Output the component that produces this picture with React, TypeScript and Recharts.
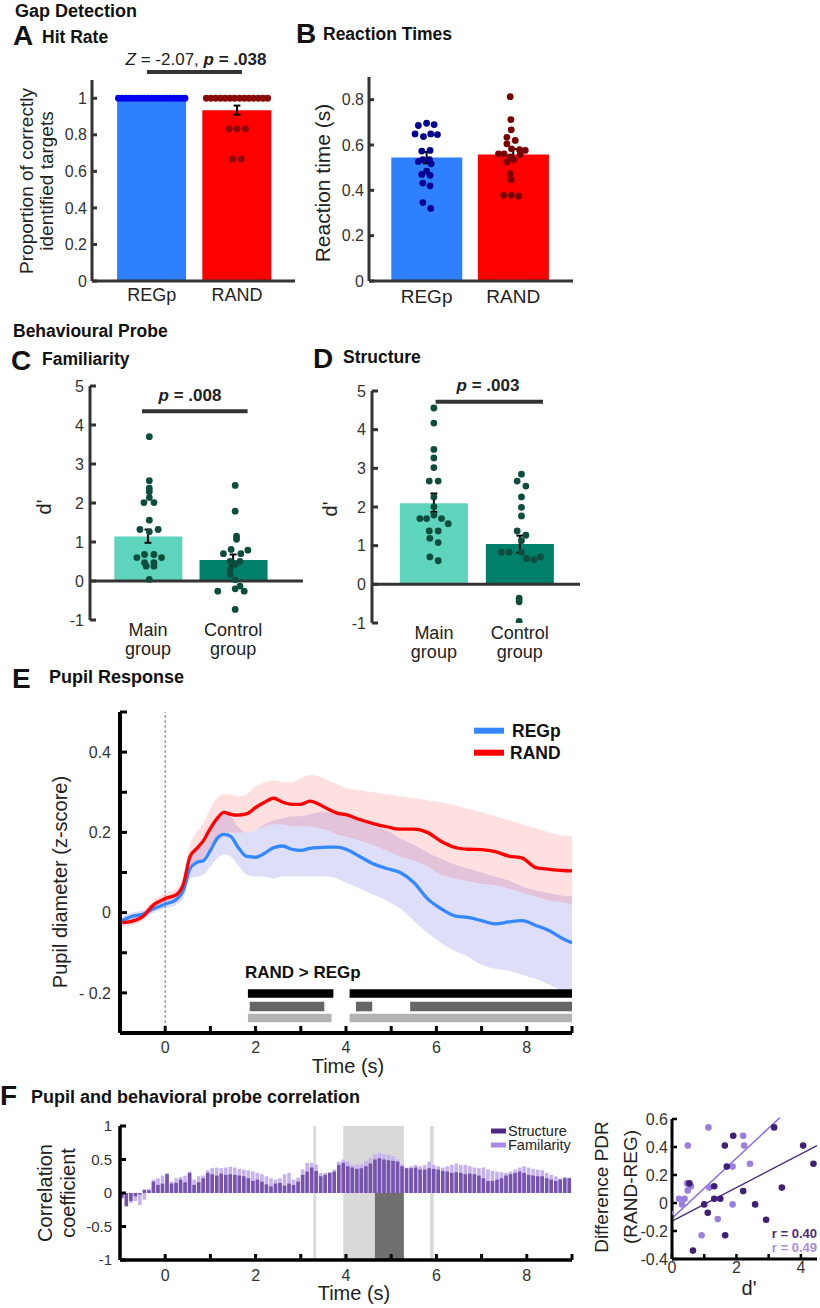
import React from "react";
import {
  ComposedChart,
  Bar,
  Cell,
  Scatter,
  Line,
  Area,
  XAxis,
  YAxis,
  ReferenceLine,
  ReferenceArea,
} from "recharts";

const FONT = '"Liberation Sans", Arial, Helvetica, sans-serif';
const INK = "#333";

// ---------- A / B : gap detection ----------
const abGroups = ["REGp", "RAND"];
const hitRate = [1.0, 0.935];
const hitRateErr = [
  [0.997, 1.003],
  [0.91, 0.96],
];
// [jitter, value]
const hitRegDots = [
  [-0.39, 1], [-0.347, 1], [-0.303, 1], [-0.26, 1], [-0.217, 1], [-0.173, 1], [-0.13, 1],
  [-0.087, 1], [-0.043, 1], [0, 1], [0.043, 1], [0.087, 1], [0.13, 1], [0.173, 1],
  [0.217, 1], [0.26, 1], [0.303, 1], [0.347, 1], [0.39, 1],
];
const hitRandDots = [
  [-0.36, 1], [-0.305, 1], [-0.25, 1], [-0.195, 1], [-0.14, 1], [-0.085, 1], [-0.03, 1],
  [0.03, 1], [0.085, 1], [0.14, 1], [0.195, 1], [0.25, 1], [0.305, 1], [0.36, 1],
  [-0.09, 0.833], [0, 0.833], [0.1, 0.833], [-0.05, 0.667], [0.05, 0.667],
];

const rtMean = [0.545, 0.558];
const rtErr = [
  [0.519, 0.569],
  [0.535, 0.582],
];
const rtRegDots = [
  [-0.095, 0.686], [0, 0.696], [0.087, 0.69], [-0.133, 0.649], [-0.036, 0.637],
  [0.048, 0.649], [0.125, 0.646], [-0.056, 0.573], [0.04, 0.576], [-0.044, 0.535],
  [0.033, 0.535], [-0.095, 0.527], [0.052, 0.517], [0, 0.485], [-0.056, 0.47],
  [0.04, 0.466], [-0.044, 0.432], [0.04, 0.42], [-0.044, 0.346], [0.048, 0.32],
];
const rtRandDots = [
  [-0.035, 0.813], [-0.027, 0.712], [-0.023, 0.667], [-0.073, 0.634], [0.023, 0.62],
  [-0.073, 0.605], [-0.02, 0.583], [0.073, 0.579], [-0.17, 0.561], [-0.105, 0.561],
  [0.139, 0.576], [0.08, 0.558], [-0.035, 0.547], [-0.073, 0.525], [0.004, 0.535],
  [-0.035, 0.473], [-0.023, 0.447], [-0.112, 0.378], [-0.023, 0.378], [0.062, 0.374],
];

// ---------- C / D : behavioural probe ----------
const cdGroups = [
  ["Main", "group"],
  ["Control", "group"],
];
const famMean = [1.14, 0.54];
const famErr = [
  [0.98, 1.32],
  [0.38, 0.68],
];
const famMainDots = [
  [0.016, 3.7], [0.016, 2.57], [0.016, 2.38], [0.016, 2.29], [0.016, 2.14], [-0.047, 2.01],
  [0.071, 2.01], [0.016, 1.56], [-0.094, 1.32], [0.016, 1.26], [0.12, 1.32], [-0.13, 0.6],
  [-0.04, 0.68], [0.07, 0.68], [0.16, 0.6], [-0.04, 0.47], [0.07, 0.47], [-0.02, 0.38],
  [0.07, 0.38], [0.016, 0.04],
];
const famCtrlDots = [
  [0.024, 2.45], [0.024, 1.79], [0.04, 1.15], [0.04, 1.07], [-0.114, 0.7], [-0.024, 0.81],
  [0.173, 0.79], [0.09, 0.7], [-0.035, 0.5], [0.024, 0.43], [0.08, 0.5], [-0.035, 0.3],
  [-0.035, 0.17], [0.024, 0.03], [0.08, -0.13], [-0.18, -0.26], [0.024, -0.2],
  [0.13, -0.26], [0.024, -0.73],
];

const strMean = [2.1, 1.04];
const strErr = [
  [1.87, 2.35],
  [0.82, 1.26],
];
const strMainDots = [
  [0, 4.56], [0, 4.17], [0, 3.49], [0, 3.27], [0, 3.02], [-0.054, 2.67], [0.05, 2.67],
  [0, 2.26], [0, 2.0], [-0.163, 1.7], [-0.085, 1.7], [0, 1.79], [0.089, 1.7], [0.167, 1.57],
  [-0.054, 1.38], [0.05, 1.38], [-0.047, 1.19], [0.05, 1.08], [-0.047, 0.71], [0.05, 0.61],
];
const strCtrlDots = [
  [0.019, 2.85], [-0.031, 2.67], [0.07, 2.54], [0.019, 2.26], [0.019, 1.99], [0.019, 1.77],
  [-0.031, 1.38], [0.07, 1.27], [0.019, 1.13], [-0.213, 0.83], [-0.124, 0.83], [0.019, 0.83],
  [0.078, 0.67], [0.163, 0.64], [0.24, 0.71], [-0.008, -0.36], [-0.008, -0.45], [-0.008, -0.96],
];

// ---------- E : pupil response ----------
const eTime = [
  -0.95, -0.75, -0.5, -0.25, 0, 0.25, 0.4, 0.55, 0.7, 0.85, 1.0, 1.15, 1.3, 1.45, 1.6, 1.8,
  2.0, 2.2, 2.4, 2.6, 2.8, 3.0, 3.2, 3.4, 3.6, 3.8, 4.0, 4.3, 4.6, 4.9, 5.2, 5.5, 5.8, 6.1,
  6.4, 6.7, 7.0, 7.3, 7.6, 7.9, 8.2, 8.5, 8.8, 9.0,
];
const randMean = [
  -0.025, -0.022, -0.01, 0.02, 0.035, 0.045, 0.07, 0.14, 0.16, 0.18, 0.21, 0.235, 0.25, 0.245,
  0.243, 0.246, 0.262, 0.275, 0.285, 0.275, 0.27, 0.27, 0.278, 0.27, 0.258, 0.248, 0.244,
  0.232, 0.222, 0.214, 0.208, 0.208, 0.2, 0.178, 0.163, 0.158, 0.157, 0.152, 0.141, 0.136,
  0.112, 0.108, 0.105, 0.104,
];
const randLo = [
  -0.035, -0.032, -0.02, 0.008, 0.022, 0.03, 0.05, 0.11, 0.125, 0.14, 0.165, 0.19, 0.2, 0.2,
  0.2, 0.2, 0.205, 0.215, 0.22, 0.22, 0.215, 0.215, 0.215, 0.21, 0.205, 0.195, 0.19, 0.18,
  0.168, 0.155, 0.14, 0.13, 0.115, 0.095, 0.085, 0.078, 0.072, 0.068, 0.06, 0.05, 0.04, 0.03,
  0.025, 0.02,
];
const randHi = [
  -0.015, -0.012, 0.0, 0.032, 0.048, 0.06, 0.09, 0.17, 0.2, 0.225, 0.26, 0.285, 0.295, 0.295,
  0.29, 0.295, 0.315, 0.325, 0.33, 0.325, 0.325, 0.335, 0.343, 0.34, 0.33, 0.32, 0.31, 0.305,
  0.3, 0.295, 0.29, 0.285, 0.28, 0.275, 0.268, 0.258, 0.25, 0.24, 0.23, 0.22, 0.21, 0.2,
  0.192, 0.19,
];
const regMean = [
  -0.02, -0.01, -0.004, 0.01, 0.021, 0.033, 0.055, 0.11, 0.125, 0.13, 0.155, 0.185, 0.195,
  0.19, 0.165, 0.14, 0.138, 0.148, 0.162, 0.166, 0.158, 0.155, 0.16, 0.162, 0.163, 0.163,
  0.158, 0.14, 0.122, 0.11, 0.1, 0.075, 0.035, 0.01, -0.008, -0.012, -0.02, -0.028, -0.023,
  -0.02, -0.032, -0.045, -0.065, -0.075,
];
const regLo = [
  -0.03, -0.02, -0.014, 0.0, 0.01, 0.02, 0.035, 0.085, 0.09, 0.095, 0.115, 0.135, 0.145, 0.14,
  0.12, 0.095, 0.09, 0.09, 0.085, 0.09, 0.09, 0.09, 0.09, 0.09, 0.09, 0.085, 0.075, 0.06,
  0.045, 0.03, 0.01, -0.02, -0.05, -0.075, -0.095, -0.11, -0.13, -0.14, -0.145, -0.155,
  -0.165, -0.18, -0.195, -0.2,
];
const regHi = [
  -0.01, 0.0, 0.006, 0.02, 0.032, 0.046, 0.075, 0.135, 0.16, 0.17, 0.2, 0.23, 0.245, 0.24,
  0.215, 0.2, 0.205, 0.22, 0.23, 0.235, 0.24, 0.24, 0.245, 0.25, 0.25, 0.245, 0.24, 0.23,
  0.215, 0.205, 0.185, 0.17, 0.15, 0.135, 0.12, 0.11, 0.1, 0.09, 0.08, 0.065, 0.055, 0.048,
  0.042, 0.04,
];
// significant clusters RAND > REGp (s)
const sigTop = [[1.83, 3.72], [4.08, 9.0]];
const sigMid = [[1.87, 3.52], [4.22, 4.58], [5.42, 9.0]];
const sigLow = [[1.83, 3.68], [4.08, 9.0]];
const eYTicks = [-0.2, -0.1, 0, 0.1, 0.2, 0.3, 0.4, 0.5];
const eYLabels = ["- 0.2", "", "0", "", "0.2", "", "0.4", ""];
const timeTicks = [0, 1, 2, 3, 4, 5, 6, 7, 8, 9];

// ---------- F : correlation ----------
// one bar every 0.1 s from -0.95 s
const fStructure = [
  -0.08, -0.2, -0.12, -0.05, -0.02, 0.05, 0.04, 0.17, 0.12, 0.14,
  0.28, 0.14, 0.15, 0.2, 0.16, 0.3, 0.12, 0.16, 0.22, 0.3,
  0.28, 0.26, 0.29, 0.27, 0.28, 0.27, 0.26, 0.25, 0.22, 0.18,
  0.2, 0.17, 0.13, 0.1, 0.14, 0.15, 0.11, 0.14, 0.12, 0.17,
  0.27, 0.32, 0.38, 0.33, 0.25, 0.27, 0.3, 0.32, 0.42, 0.45,
  0.4, 0.38, 0.36, 0.37, 0.4, 0.44, 0.5, 0.52, 0.5, 0.49,
  0.48, 0.47, 0.4, 0.37, 0.37, 0.38, 0.35, 0.35, 0.37, 0.36,
  0.35, 0.33, 0.32, 0.3, 0.31, 0.3, 0.28, 0.29, 0.28, 0.26,
  0.22, 0.18, 0.18, 0.2, 0.22, 0.26, 0.28, 0.3, 0.32, 0.3,
  0.27, 0.26, 0.25, 0.25, 0.22, 0.2, 0.18, 0.2, 0.22, 0.22,
];
const fFamiliarity = [
  -0.03, -0.08, -0.15, -0.12, -0.18, -0.1, 0.06, 0.2, 0.22, 0.26,
  0.3, 0.17, 0.22, 0.24, 0.26, 0.32, 0.2, 0.25, 0.26, 0.34,
  0.37, 0.38, 0.37, 0.38, 0.39, 0.38, 0.36, 0.35, 0.34, 0.32,
  0.3, 0.28, 0.25, 0.22, 0.2, 0.22, 0.28, 0.3, 0.2, 0.23,
  0.35, 0.45, 0.45, 0.42, 0.3, 0.3, 0.31, 0.35, 0.47, 0.5,
  0.47, 0.42, 0.42, 0.43, 0.48, 0.52, 0.58, 0.6, 0.58, 0.57,
  0.55, 0.5, 0.43, 0.38, 0.4, 0.42, 0.4, 0.42, 0.47, 0.42,
  0.4, 0.38, 0.4, 0.42, 0.44, 0.42, 0.42, 0.4, 0.38, 0.37,
  0.38, 0.35, 0.33, 0.32, 0.31, 0.3, 0.32, 0.35, 0.38, 0.4,
  0.38, 0.36, 0.35, 0.34, 0.3, 0.27, 0.25, 0.22, 0.24, 0.23,
];
const fSigLight = [[3.28, 3.34], [3.94, 5.28], [5.86, 5.94]];
const fSigDark = [[4.64, 5.28]];
const fYTicks = [-1, -0.5, 0, 0.5, 1];

// scatter: [d', PDR difference]
const scStructure = [
  [0.65, -0.34], [0.54, 0.14], [1.0, -0.01], [1.11, -0.07], [1.31, 0.12], [1.31, 0.03],
  [1.5, 0.03], [1.64, 0.41], [1.65, -0.23], [1.9, 0.48], [1.7, 0.26], [2.21, 0.085],
  [2.58, -0.01], [2.92, -0.12], [3.17, 0.54], [3.41, 0.11], [4.07, 0.41], [4.39, 0.28],
];
const scFamiliarity = [
  [-0.07, -0.07], [0.22, 0.03], [0.31, -0.01], [0.39, 0.03], [0.49, 0.41], [0.47, 0.14],
  [0.49, 0.09], [0.59, 0.12], [1.13, 0.54], [1.16, 0.11], [1.42, -0.115], [0.92, -0.23],
  [1.88, 0.26], [1.88, -0.01], [2.21, 0.48], [2.24, 0.41], [2.42, 0.28],
];
const fitStructure = [[0, -0.13], [4.5, 0.41]];
const fitFamiliarity = [[0, -0.11], [3.35, 0.61]];

const C_STRUCT = "#4b2a85";
const C_FAM = "#a98be6";

type Rect = { l: number; t: number; r: number; b: number };

function frame(p: Rect, wy: number, mt: number, mr: number, hx: number) {
  return {
    style: { position: "absolute" as const, left: p.l - wy, top: p.t - mt },
    width: p.r - p.l + wy + mr,
    height: p.b - p.t + mt + hx,
    margin: { top: mt, right: mr, bottom: 0, left: 0 },
  };
}

const toPts = (g: number, pts: number[][]) => pts.map(([dx, v]) => ({ x: g + dx, y: v }));

const dot = (r: number, fill: string) => (s: any) => <circle cx={s.cx} cy={s.cy} r={r} fill={fill} />;

function errorBars(errs: number[][], cap: number, key: string) {
  const out: React.ReactElement[] = [];
  errs.forEach(([lo, hi], i) => {
    const x = i + 1;
    out.push(<ReferenceLine key={key + "v" + i} segment={[{ x, y: lo }, { x, y: hi }]} stroke="#000" strokeWidth={2} />);
    out.push(<ReferenceLine key={key + "l" + i} segment={[{ x: x - cap, y: lo }, { x: x + cap, y: lo }]} stroke="#000" strokeWidth={2} />);
    out.push(<ReferenceLine key={key + "h" + i} segment={[{ x: x - cap, y: hi }, { x: x + cap, y: hi }]} stroke="#000" strokeWidth={2} />);
  });
  return out;
}

type PanelProps = {
  plot: Rect;
  xDomain: [number, number];
  yDomain: [number, number];
  yTicks: number[];
  means: number[];
  errs: number[][];
  barColors: string[];
  dots: { pts: { x: number; y: number }[]; color: string }[];
  barSize: number;
  tick: any;
  tickFormatter?: (v: number) => string;
  xTickMargin: number;
  hx: number;
  zeroAxis?: boolean;
  sig?: { x1: number; x2: number; y: number };
  yGap: number;
  tickSize: number;
};

function BarPanel(p: PanelProps) {
  const f = frame(p.plot, 50, 20, 6, p.hx);
  const data = p.means.map((m, i) => ({ x: i + 1, y: m }));
  return (
    <div style={f.style}>
      <ComposedChart width={f.width} height={f.height} margin={f.margin} data={data}>
        <XAxis
          type="number"
          dataKey="x"
          domain={p.xDomain}
          allowDataOverflow
          ticks={[1, 2]}
          interval={0}
          height={p.hx}
          axisLine={p.zeroAxis ? false : { stroke: INK, strokeWidth: 3 }}
          tickLine={false}
          tickSize={0}
          tickMargin={p.xTickMargin}
          tick={p.tick}
          tickFormatter={p.tickFormatter}
        />
        <XAxis xAxisId="d" type="number" dataKey="x" domain={p.xDomain} allowDataOverflow hide />
        <YAxis
          type="number"
          domain={p.yDomain}
          allowDataOverflow
          ticks={p.yTicks}
          interval={0}
          width={50}
          axisLine={{ stroke: INK, strokeWidth: 3 }}
          tickLine={{ stroke: INK, strokeWidth: 3 }}
          tickSize={-p.tickSize}
          tickMargin={p.tickSize + p.yGap}
          tick={{ fill: INK, fontSize: 16, fontFamily: FONT }}
        />
        <Bar dataKey="y" barSize={p.barSize} isAnimationActive={false}>
          {data.map((_, i) => (
            <Cell key={i} fill={p.barColors[i]} />
          ))}
        </Bar>
        {p.zeroAxis && <ReferenceLine y={0} stroke={INK} strokeWidth={3} />}
        {p.dots.map((d, i) => (
          <Scatter key={i} xAxisId="d" data={d.pts} dataKey="y" isAnimationActive={false} shape={dot(3.4, d.color)} />
        ))}
        {errorBars(p.errs, 0.04, "e")}
        {p.sig && (
          <ReferenceLine
            segment={[{ x: p.sig.x1, y: p.sig.y }, { x: p.sig.x2, y: p.sig.y }]}
            stroke={INK}
            strokeWidth={4}
            ifOverflow="visible"
          />
        )}
      </ComposedChart>
    </div>
  );
}

const groupTick = (p: any) => {
  const l = cdGroups[Math.round(p.payload.value) - 1] || [];
  return (
    <text x={p.x} y={p.y} textAnchor="middle" fontSize={18} fill="#222" fontFamily={FONT}>
      <tspan x={p.x} dy={16}>{l[0]}</tspan>
      <tspan x={p.x} dy={19}>{l[1]}</tspan>
    </text>
  );
};

function PupilPanel() {
  const plot = { l: 120, t: 712, r: 572, b: 1033 };
  const f = frame(plot, 60, 8, 6, 40);
  const rows = eTime.map((t, i) => ({
    t,
    rand: randMean[i],
    randBand: [randLo[i], randHi[i]],
    reg: regMean[i],
    regBand: [regLo[i], regHi[i]],
  }));
  const sigRows = [
    { spans: sigTop, y: [-0.191, -0.212], fill: "#000" },
    { spans: sigMid, y: [-0.222, -0.246], fill: "#666" },
    { spans: sigLow, y: [-0.252, -0.273], fill: "#b3b3b3" },
  ];
  return (
    <div style={f.style}>
      <ComposedChart width={f.width} height={f.height} margin={f.margin} data={rows}>
        <XAxis
          type="number"
          dataKey="t"
          domain={[-1, 9]}
          allowDataOverflow
          ticks={timeTicks}
          interval={0}
          height={40}
          axisLine={{ stroke: "#000", strokeWidth: 4 }}
          tickLine={{ stroke: "#000", strokeWidth: 3 }}
          tickSize={-7}
          tickMargin={16}
          tickFormatter={(v: number) => (v % 2 === 0 ? String(v) : "")}
          tick={{ fill: INK, fontSize: 16, fontFamily: FONT }}
        />
        <YAxis
          type="number"
          domain={[-0.3, 0.5]}
          allowDataOverflow
          ticks={eYTicks}
          interval={0}
          width={60}
          axisLine={{ stroke: "#000", strokeWidth: 4 }}
          tickLine={{ stroke: "#000", strokeWidth: 3 }}
          tickSize={-7}
          tickMargin={16}
          tickFormatter={(v: number) => eYLabels[eYTicks.indexOf(v)] ?? ""}
          tick={{ fill: INK, fontSize: 16, fontFamily: FONT }}
        />
        <Area type="monotone" dataKey="regBand" stroke="none" fill="#3434d8" fillOpacity={0.16} dot={false} activeDot={false} isAnimationActive={false} />
        <Area type="monotone" dataKey="randBand" stroke="none" fill="#ff2020" fillOpacity={0.14} dot={false} activeDot={false} isAnimationActive={false} />
        <ReferenceLine x={0} stroke="#8a8a8a" strokeWidth={1.2} strokeDasharray="3 2" />
        <Line type="monotone" dataKey="reg" stroke="#3388ff" strokeWidth={3.3} dot={false} activeDot={false} isAnimationActive={false} />
        <Line type="monotone" dataKey="rand" stroke="#ff0000" strokeWidth={3.3} dot={false} activeDot={false} isAnimationActive={false} />
        {sigRows.map((row, j) =>
          row.spans.map(([a, b], k) => (
            <ReferenceArea key={`s${j}-${k}`} x1={a} x2={b} y1={row.y[1]} y2={row.y[0]} fill={row.fill} fillOpacity={1} stroke="none" />
          ))
        )}
      </ComposedChart>
    </div>
  );
}

function CorrPanel() {
  const plot = { l: 120, t: 1126, r: 572, b: 1260 };
  const f = frame(plot, 60, 8, 6, 30);
  const rows = fStructure.map((s, i) => ({ t: -0.95 + i * 0.1, s, f: fFamiliarity[i] }));
  return (
    <div style={f.style}>
      <ComposedChart width={f.width} height={f.height} margin={f.margin} data={rows}>
        <XAxis
          xAxisId="a"
          type="number"
          dataKey="t"
          domain={[-1, 9]}
          allowDataOverflow
          ticks={timeTicks}
          interval={0}
          height={30}
          axisLine={{ stroke: "#000", strokeWidth: 3.5 }}
          tickLine={{ stroke: "#000", strokeWidth: 3 }}
          tickSize={-6}
          tickMargin={16}
          tickFormatter={(v: number) => (v % 2 === 0 ? String(v) : "")}
          tick={{ fill: INK, fontSize: 16, fontFamily: FONT }}
        />
        <XAxis xAxisId="b" type="number" dataKey="t" domain={[-1, 9]} allowDataOverflow hide />
        <YAxis
          type="number"
          domain={[-1, 1]}
          allowDataOverflow
          ticks={fYTicks}
          interval={0}
          width={60}
          axisLine={{ stroke: "#000", strokeWidth: 3.5 }}
          tickLine={{ stroke: "#000", strokeWidth: 3 }}
          tickSize={-6}
          tickMargin={14}
          tick={{ fill: INK, fontSize: 15, fontFamily: FONT }}
        />
        {fSigLight.map(([a, b], k) => (
          <ReferenceArea key={"l" + k} xAxisId="a" x1={a} x2={b} y1={-1} y2={1} fill="#d9d9d9" fillOpacity={1} stroke="none" />
        ))}
        {fSigDark.map(([a, b], k) => (
          <ReferenceArea key={"d" + k} xAxisId="a" x1={a} x2={b} y1={-1} y2={0} fill="#707070" fillOpacity={1} stroke="none" />
        ))}
        <Bar xAxisId="b" dataKey="f" fill="#c6b2ee" barSize={3.6} isAnimationActive={false} />
        <Bar xAxisId="a" dataKey="s" fill="#7654ad" barSize={3.6} isAnimationActive={false} />
      </ComposedChart>
    </div>
  );
}

function ScatterPanel() {
  const plot = { l: 672, t: 1119, r: 817, b: 1259 };
  const f = frame(plot, 45, 8, 3, 30);
  const s = scStructure.map(([x, y]) => ({ x, y }));
  const fa = scFamiliarity.map(([x, y]) => ({ x, y }));
  return (
    <div style={f.style}>
      <ComposedChart width={f.width} height={f.height} margin={f.margin}>
        <XAxis
          type="number"
          dataKey="x"
          domain={[0, 4.5]}
          allowDataOverflow
          ticks={[0, 1, 2, 3, 4]}
          interval={0}
          height={30}
          axisLine={{ stroke: "#000", strokeWidth: 3 }}
          tickLine={{ stroke: "#000", strokeWidth: 2.5 }}
          tickSize={-5}
          tickMargin={8}
          tickFormatter={(v: number) => (v % 2 === 0 ? String(v) : "")}
          tick={{ fill: INK, fontSize: 16, fontFamily: FONT }}
        />
        <YAxis
          type="number"
          domain={[-0.4, 0.6]}
          allowDataOverflow
          ticks={[-0.4, -0.2, 0, 0.2, 0.4, 0.6]}
          interval={0}
          width={45}
          axisLine={{ stroke: "#000", strokeWidth: 3 }}
          tickLine={{ stroke: "#000", strokeWidth: 2.5 }}
          tickSize={-5}
          tickMargin={9}
          tick={{ fill: INK, fontSize: 16, fontFamily: FONT }}
        />
        <ReferenceLine segment={fitStructure.map(([x, y]) => ({ x, y }))} stroke="#4b2c85" strokeWidth={1.5} ifOverflow="visible" />
        <ReferenceLine segment={fitFamiliarity.map(([x, y]) => ({ x, y }))} stroke="#8f70de" strokeWidth={1.5} ifOverflow="visible" />
        <Scatter data={fa} dataKey="y" isAnimationActive={false} shape={dot(3.3, "#9b7fe0")} />
        <Scatter data={s} dataKey="y" isAnimationActive={false} shape={dot(3.3, "#3f2075")} />
      </ComposedChart>
    </div>
  );
}

const VText = ({ x, y, size, children }: any) => (
  <text transform={`translate(${x},${y}) rotate(-90)`} textAnchor="middle" dominantBaseline="central" fontSize={size} fill="#222">
    {children}
  </text>
);

function Overlay() {
  const head = { fontWeight: "bold" as const, fill: "#111" };
  return (
    <svg width={820} height={1308} style={{ position: "absolute", left: 0, top: 0, pointerEvents: "none" }} fontFamily={FONT}>
      <text x={15} y={16.5} fontSize={18} {...head}>Gap Detection</text>
      <text x={13} y={45} fontSize={28} {...head}>A</text>
      <text x={42} y={43} fontSize={17.5} {...head}>Hit Rate</text>
      <text x={296} y={43} fontSize={28} {...head}>B</text>
      <text x={323} y={40} fontSize={17.5} {...head}>Reaction Times</text>
      <text x={13} y={337} fontSize={17.5} {...head}>Behavioural Probe</text>
      <text x={11} y={370} fontSize={28} {...head}>C</text>
      <text x={42} y={365} fontSize={17.5} {...head}>Familiarity</text>
      <text x={313} y={368} fontSize={28} {...head}>D</text>
      <text x={343} y={363} fontSize={17.5} {...head}>Structure</text>
      <text x={12} y={688} fontSize={28} {...head}>E</text>
      <text x={49} y={683} fontSize={18} {...head}>Pupil Response</text>
      <text x={0} y={1105} fontSize={28} {...head}>F</text>
      <text x={31} y={1103} fontSize={18} {...head}>Pupil and behavioral probe correlation</text>

      <text x={196} y={65} textAnchor="middle" fontSize={17} fill="#222">
        <tspan fontStyle="italic">Z</tspan>
        <tspan>{" = -2.07, "}</tspan>
        <tspan fontWeight="bold" fontStyle="italic">p</tspan>
        <tspan fontWeight="bold">{" = .038"}</tspan>
      </text>
      <text x={190} y={401} textAnchor="middle" fontSize={17} fill="#222">
        <tspan fontWeight="bold" fontStyle="italic">p</tspan>
        <tspan fontWeight="bold">{" = .008"}</tspan>
      </text>
      <text x={488} y={391} textAnchor="middle" fontSize={17} fill="#222">
        <tspan fontWeight="bold" fontStyle="italic">p</tspan>
        <tspan fontWeight="bold">{" = .003"}</tspan>
      </text>

      <VText x={26} y={181} size={19}>Proportion of correctly</VText>
      <VText x={46} y={181} size={19}>identified targets</VText>
      <VText x={322} y={183} size={21}>Reaction time (s)</VText>
      <VText x={44} y={507} size={20}>d'</VText>
      <VText x={330} y={509} size={20}>d'</VText>
      <VText x={60} y={882} size={20}>Pupil diameter (z-score)</VText>
      <VText x={45} y={1193} size={20}>Correlation</VText>
      <VText x={68} y={1193} size={20}>coefficient</VText>
      <VText x={601} y={1187} size={19}>Difference PDR</VText>
      <VText x={630} y={1187} size={19}>(RAND-REG)</VText>

      <text x={348} y={1073} textAnchor="middle" fontSize={20} fill="#222">Time (s)</text>
      <text x={354} y={1300} textAnchor="middle" fontSize={20} fill="#222">Time (s)</text>
      <text x={749} y={1295} textAnchor="middle" fontSize={20} fill="#222">d'</text>

      <line x1={474} x2={504} y1={730.7} y2={730.7} stroke="#3388ff" strokeWidth={6} />
      <text x={512} y={736.5} fontSize={17.5} {...head}>REGp</text>
      <line x1={474} x2={504} y1={752.7} y2={752.7} stroke="#ff0000" strokeWidth={6} />
      <text x={510} y={758.5} fontSize={17.5} {...head}>RAND</text>
      <text x={245} y={978} fontSize={17} {...head}>{"RAND > REGp"}</text>

      <line x1={491} x2={506} y1={1131} y2={1131} stroke={C_STRUCT} strokeWidth={5} />
      <text x={508} y={1136} fontSize={14.5} fill="#222">Structure</text>
      <line x1={491} x2={506} y1={1145} y2={1145} stroke={C_FAM} strokeWidth={5} />
      <text x={508} y={1150} fontSize={14.5} fill="#222">Familarity</text>

      <text x={817} y={1237.5} textAnchor="end" fontSize={13} fontWeight="bold" fill={C_STRUCT}>r = 0.40</text>
      <text x={817} y={1251.5} textAnchor="end" fontSize={13} fontWeight="bold" fill={C_FAM}>r = 0.49</text>
    </svg>
  );
}

export default function App() {
  return (
    <div style={{ position: "absolute", left: 0, top: 0, width: 820, height: 1308, background: "#fff", fontFamily: FONT }}>
      <BarPanel
        plot={{ l: 92, t: 80, r: 295, b: 281 }}
        xDomain={[0.3, 2.68]}
        yDomain={[0, 1.1]}
        yTicks={[0, 0.2, 0.4, 0.6, 0.8, 1]}
        means={hitRate}
        errs={hitRateErr}
        barColors={["#2f80ff", "#ff0000"]}
        dots={[
          { pts: toPts(1, hitRegDots), color: "#0000ee" },
          { pts: toPts(2, hitRandDots), color: "#8b0a0a" },
        ]}
        barSize={69}
        tick={{ fill: "#222", fontSize: 18, fontFamily: FONT }}
        tickFormatter={(v: number) => abGroups[v - 1] ?? ""}
        xTickMargin={7}
        hx={30}
        sig={{ x1: 0.945, x2: 2.058, y: 1.144 }}
        yGap={5}
        tickSize={5}
      />
      <BarPanel
        plot={{ l: 369, t: 77, r: 573, b: 281 }}
        xDomain={[0.335, 2.69]}
        yDomain={[0, 0.9]}
        yTicks={[0, 0.2, 0.4, 0.6, 0.8]}
        means={rtMean}
        errs={rtErr}
        barColors={["#2f80ff", "#ff0000"]}
        dots={[
          { pts: toPts(1, rtRegDots), color: "#000090" },
          { pts: toPts(2, rtRandDots), color: "#7a0000" },
        ]}
        barSize={71}
        tick={{ fill: "#222", fontSize: 19, fontFamily: FONT }}
        tickFormatter={(v: number) => abGroups[v - 1] ?? ""}
        xTickMargin={9}
        hx={30}
        yGap={5}
        tickSize={5}
      />
      <BarPanel
        plot={{ l: 90, t: 386, r: 303, b: 620 }}
        xDomain={[0.32, 2.82]}
        yDomain={[-1, 5]}
        yTicks={[-1, 0, 1, 2, 3, 4, 5]}
        means={famMean}
        errs={famErr}
        barColors={["#5fd4bc", "#00806a"]}
        dots={[
          { pts: toPts(1, famMainDots), color: "#0e4d3e" },
          { pts: toPts(2, famCtrlDots), color: "#0e4d3e" },
        ]}
        barSize={68}
        tick={groupTick}
        xTickMargin={0}
        hx={45}
        zeroAxis
        sig={{ x1: 0.93, x2: 2.17, y: 4.35 }}
        yGap={6}
        tickSize={6}
      />
      <BarPanel
        plot={{ l: 372, t: 391, r: 580, b: 623 }}
        xDomain={[0.28, 2.7]}
        yDomain={[-1, 5]}
        yTicks={[-1, 0, 1, 2, 3, 4, 5]}
        means={strMean}
        errs={strErr}
        barColors={["#5fd4bc", "#00806a"]}
        dots={[
          { pts: toPts(1, strMainDots), color: "#0e4d3e" },
          { pts: toPts(2, strCtrlDots), color: "#0e4d3e" },
        ]}
        barSize={68}
        tick={groupTick}
        xTickMargin={0}
        hx={45}
        zeroAxis
        sig={{ x1: 1.02, x2: 2.27, y: 4.72 }}
        yGap={6}
        tickSize={6}
      />
      <PupilPanel />
      <CorrPanel />
      <ScatterPanel />
      <Overlay />
    </div>
  );
}
